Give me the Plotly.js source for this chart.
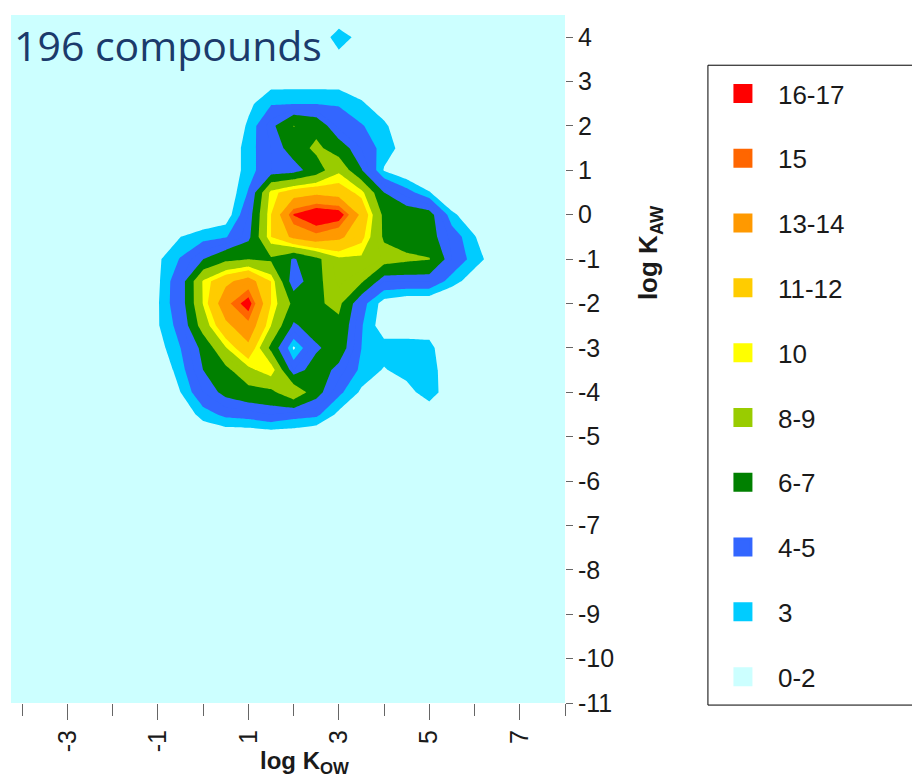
<!DOCTYPE html>
<html><head><meta charset="utf-8">
<script src="https://cdn.plot.ly/plotly-3.0.1.min.js"></script>
<style>html,body{margin:0;padding:0;background:#fff}#chart{width:912px;height:781px}</style>
</head><body><div id="chart"></div>
<script>
// grid of log Kow (x) values
const kow = [-1.5,-1,-0.5,0,0.5,1,1.5,2,2.5,3,3.5,4,4.5,5,5.5,6,6.5,7];
// grid of log Kaw (y) values, top to bottom
const kawDesc = [4.5,4,3.5,3,2.5,2,1.5,1,0.5,0,-0.5,-1,-1.5,-2,-2.5,-3,-3.5,-4,-4.5,-5,-5.5];
// number of compounds per grid node, rows follow kawDesc
const countsDesc = [
  [0,0,0,0,0,0,0,0,0.5,1,0.5,0,0,0,0,0,0,0],
  [0,0,0,0,0,0,0,0.5,1,3.4,1.8,0.5,0,0,0,0,0,0],
  [0,0,0,0,0,0.5,1,1,1,1.8,1,0.5,0,0,0,0,0,0],
  [0,0,0,0,0.5,1.2,2,2,2,2,1.5,1,0.5,0,0,0,0,0],
  [0,0,0,0.5,1,2.2,3.4,3.45,3.45,3.4,2.7,1.6,0.8,0,0,0,0,0],
  [0,0,0,0.5,1.2,2.7,5,7.55,6.8,4.2,3.6,2.8,1.2,0.5,0,0,0,0],
  [0,0,0,0.5,1.5,3,4.5,6.3,8.0,6.4,4.5,3,2,0.8,0,0,0,0],
  [0,0,0,0.8,1.5,3,4.5,4.8,6.4,9.2,5.6,2.4,1.5,0.8,0,0,0,0],
  [0,0,0,1,1.5,3.6,10,11.5,12,11.5,10,5.5,4,2.6,1,0.5,0,0],
  [0,0,0.8,1.5,1.8,4.5,10.5,15.6,17,16.5,12,7,6.5,6.2,2.8,1.5,0.5,0],
  [0,1,2.5,3,3.4,5,10.5,13,14,13,11,7.2,6.5,6.2,4.2,2.6,1,0],
  [0.5,2.3,3.6,5.5,7,7.5,7.2,5.3,7,9.2,9.2,8.4,7.9,7.6,4.5,3,1.8,0.5],
  [0.3,2.3,4.5,9.7,12,13.5,10.5,4.3,7,8.7,7.8,4.5,4.5,4.5,3,1.8,0.5,0],
  [0.3,2.4,4.5,9.6,14,16.3,10.5,7,7.2,8,4,2,1.5,1.5,1,0.5,0,0],
  [0.2,2.4,4,8.5,12,14,9.5,5.2,6.5,7,3.6,1.8,1.8,1.8,0.8,0.3,0,0],
  [0,2,3.5,6,9.4,12,7,2.3,5.2,6.5,3.5,3,3,2.9,1.2,0.3,0,0],
  [0,1.5,3,5.5,7,9,10.5,4.5,6.5,5,3.2,2.4,3,3.1,1.5,0.3,0,0],
  [0,1,2.5,4.5,6,6.8,7,9.2,6.2,3.8,2.3,1.5,2,3.2,1.5,0.3,0,0],
  [0,0.5,1.5,3,3.8,4,4.5,4,3.8,2.2,1.2,0.8,1,1.5,0.8,0,0,0],
  [0,0,0.5,1.3,1.5,1.5,1.6,1.6,1.2,0.8,0.5,0,0,0.5,0,0,0,0],
  [0,0,0,0,0,0,0,0,0,0,0,0,0,0,0,0,0,0]
];
// one colour per integer count band: 0-2, 3, 4, 5, 6, 7, 8, 9, 10, 11, 12, 13, 14, 15, 16-17
const bandColors = ['#CCFFFF','#00CCFF','#3366FF','#3366FF','#008000','#008000','#99CC00','#99CC00',
  '#FFFF00','#FFCC00','#FFCC00','#FF9900','#FF9900','#FF6600','#FF0000'];
// legend
const legendLabels = ['16-17','15','13-14','11-12','10','8-9','6-7','4-5','3','0-2'];
const legendColors = ['#FF0000','#FF6600','#FF9900','#FFCC00','#FFFF00','#99CC00','#008000','#3366FF','#00CCFF','#CCFFFF'];
// axis ticks
const xTickVals = [-3,-1,1,3,5,7];
const xTickText = ['-3','-1','1','3','5','7'];
const yTickVals = [4,3,2,1,0,-1,-2,-3,-4,-5,-6,-7,-8,-9,-10,-11];
const yTickText = ['4','3','2','1','0','-1','-2','-3','-4','-5','-6','-7','-8','-9','-10','-11'];

const kaw = kawDesc.slice().reverse();
const counts = countsDesc.slice().reverse();
const nBands = bandColors.length - 1;
const colorscale = bandColors.map((c, i) => [i / nBands, c]);

const data = [{
  type: 'contour',
  x: kow, y: kaw, z: counts,
  autocontour: false,
  contours: {start: 2.5, end: 15.5, size: 1, coloring: 'fill', showlines: false},
  line: {width: 0, smoothing: 0},
  colorscale: colorscale,
  showscale: false,
  showlegend: false,
  hoverinfo: 'skip'
}];
legendLabels.forEach((lab, i) => {
  data.push({
    type: 'scatter', mode: 'markers', x: [null], y: [null],
    name: lab, legendgroup: 'g' + i,
    marker: {symbol: 'square', size: 16, color: legendColors[i], line: {width: 3, color: legendColors[i]}},
    hoverinfo: 'skip'
  });
});

const tickCol = '#666666';
const layout = {
  width: 912, height: 781,
  margin: {l: 11, r: 347, t: 15, b: 78, pad: 0},
  paper_bgcolor: '#ffffff',
  plot_bgcolor: '#CCFFFF',
  font: {family: 'Arial, "Liberation Sans", sans-serif', color: '#1a1a1a'},
  xaxis: {
    range: [-4.25, 8], tickmode: 'array', tickvals: xTickVals, ticktext: xTickText,
    tickangle: -90, ticks: 'outside', ticklen: 16, tickcolor: tickCol, tickwidth: 1,
    tickfont: {size: 25, color: '#1a1a1a'},
    minor: {tickmode: 'linear', tick0: 0, dtick: 1, ticks: 'outside', ticklen: 12, tickcolor: tickCol, showgrid: false},
    showgrid: false, zeroline: false, showline: false, fixedrange: true
  },
  yaxis: {
    range: [-11, 4.5], side: 'right', tickmode: 'array', tickvals: yTickVals, ticktext: yTickText,
    ticks: 'outside', ticklen: 7, tickcolor: tickCol, tickwidth: 1,
    tickfont: {size: 25, color: '#1a1a1a'},
    showgrid: false, zeroline: false, showline: false, fixedrange: true
  },
  showlegend: true,
  legend: {
    x: 1.258, y: 0.92, xanchor: 'left', yanchor: 'top',
    borderwidth: 0, bgcolor: 'rgba(0,0,0,0)',
    font: {size: 26, color: '#1a1a1a'},
    traceorder: 'grouped', tracegroupgap: 28, itemwidth: 60
  },
  shapes: [
    {type: 'rect', xref: 'paper', yref: 'paper', x0: 1.258, x1: 1.64, y0: -0.003, y1: 0.927,
     line: {color: '#000000', width: 1}, fillcolor: 'rgba(0,0,0,0)', layer: 'below'}
  ],
  annotations: [
    {text: '196 compounds', xref: 'paper', yref: 'paper', x: 0.002, y: 0.956,
     xanchor: 'left', yanchor: 'middle', showarrow: false,
     font: {family: '"Open Sans", sans-serif', size: 41, color: '#1B3A6B'}},
    {text: '<b>log K<sub>OW</sub></b>', xref: 'paper', yref: 'paper', x: 0.53, y: -0.1125,
     xanchor: 'center', yanchor: 'bottom', showarrow: false, font: {size: 24, color: '#1a1a1a'}},
    {text: '<b>log K<sub>AW</sub></b>', xref: 'paper', yref: 'paper', x: 1.153, y: 0.655,
     xanchor: 'center', yanchor: 'middle', showarrow: false, textangle: -90,
     font: {size: 26, color: '#1a1a1a'}}
  ]
};
Plotly.newPlot('chart', data, layout, {staticPlot: true});
</script></body></html>
